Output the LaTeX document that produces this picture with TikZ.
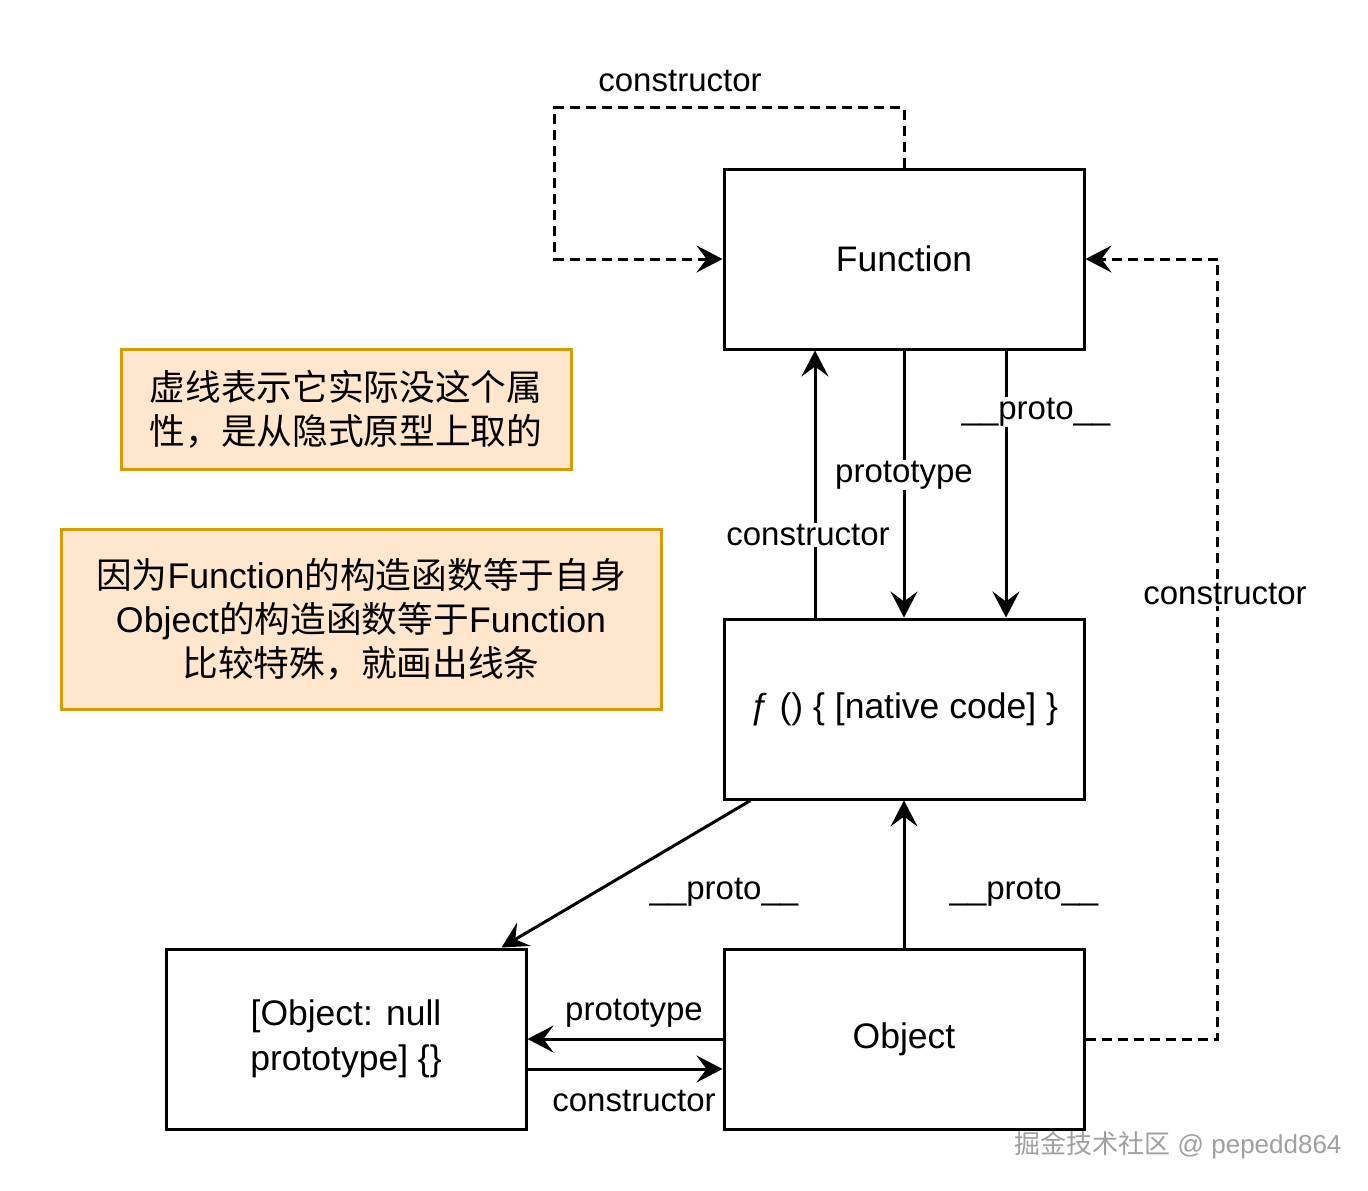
\documentclass[tikz,border=0pt]{standalone}
\usepackage{fontspec}
\setmainfont{Liberation Sans}
\newfontfamily\cjk{Noto Sans CJK SC}
\usetikzlibrary{arrows.meta}
\definecolor{notebg}{HTML}{FFE6CC}
\definecolor{notebd}{HTML}{D79B00}
\begin{document}
\begin{tikzpicture}[x=1pt,y=-1pt,
 box/.style={draw,line width=3pt,minimum width=360pt,minimum height=180pt,inner sep=0pt,font=\fontsize{35.5}{45}\selectfont,align=center},
 note/.style={draw=notebd,fill=notebg,line width=3pt,inner sep=0pt,font=\fontsize{35.7}{44}\selectfont,align=center},
 lbl/.style={font=\fontsize{33}{40}\selectfont,inner sep=1pt},
 wl/.style={lbl,fill=white},
 arr/.style={line width=3pt,-{Stealth[length=26pt,width=27pt,inset=10pt]}},
 darr/.style={arr,dash pattern=on 10pt off 6pt}]
\useasboundingbox (0,0) rectangle (1368,1191);
% boxes
\node[box] (F) at (904,259) {Function};
\node[box] (N) at (904,709) {ƒ () \{ [native code] \}};
\node[box] (O) at (904,1039) {Object};
\node[box] (U) at (346,1039) {[Object: null\\prototype] \{\}};
% notes
\node[note,minimum width=450pt,minimum height=120pt] (n1) at (346,409)
  {\cjk 虚线表示它实际没这个属\\\cjk 性，是从隐式原型上取的};
\node[note,minimum width=600pt,minimum height=180pt] (n2) at (361,619)
  {{\cjk 因为}Function{\cjk 的构造函数等于自身}\\Object{\cjk 的构造函数等于}Function\\\cjk 比较特殊，就画出线条};
% Function self constructor
\draw[darr] (F.north) -- ++(0,-60) -| ([xshift=-168pt]F.west) -- (F.west);
\node[lbl] (lc1) at (680,81) {constructor};
% Function <-> native
\draw[arr] ([xshift=-89pt]N.north) -- ([xshift=-89pt]F.south);
\draw[arr] (F.south) -- (N.north);
\draw[arr] ([xshift=102pt]F.south) -- ([xshift=102pt]N.north);
\node[wl] (lc2) at (808,535) {constructor};
\node[wl] (lp1) at (904,475) {prototype};
\node[wl] (lq1) at (1036,412) {\_\_proto\_\_};
% native -> null
\draw[arr] ([xshift=28pt]N.south west) -- ([xshift=-26pt]U.north east);
\node[lbl] (lq2) at (724,892) {\_\_proto\_\_};
% Object -> native
\draw[arr] (O.north) -- (N.south);
\node[lbl] (lq3) at (1024,892) {\_\_proto\_\_};
% Object <-> null
\draw[arr] (O.west) -- (U.east);
\node[lbl] (lp2) at (634,1013) {prototype};
\draw[arr] ([yshift=-30pt]U.east) -- ([yshift=-30pt]O.west);
\node[lbl] (lc3) at (634,1101) {constructor};
% Object constructor -> Function
\draw[darr] (O.east) -- ++(132,0) |- (F.east);
\node[wl] (lc4) at (1225,594) {constructor};
% watermark
\node[text=gray!75,font=\fontsize{26}{30}\selectfont] (wm) at (1178,1145) {{\cjk 掘金技术社区} @ pepedd864};
\end{tikzpicture}
\end{document}
